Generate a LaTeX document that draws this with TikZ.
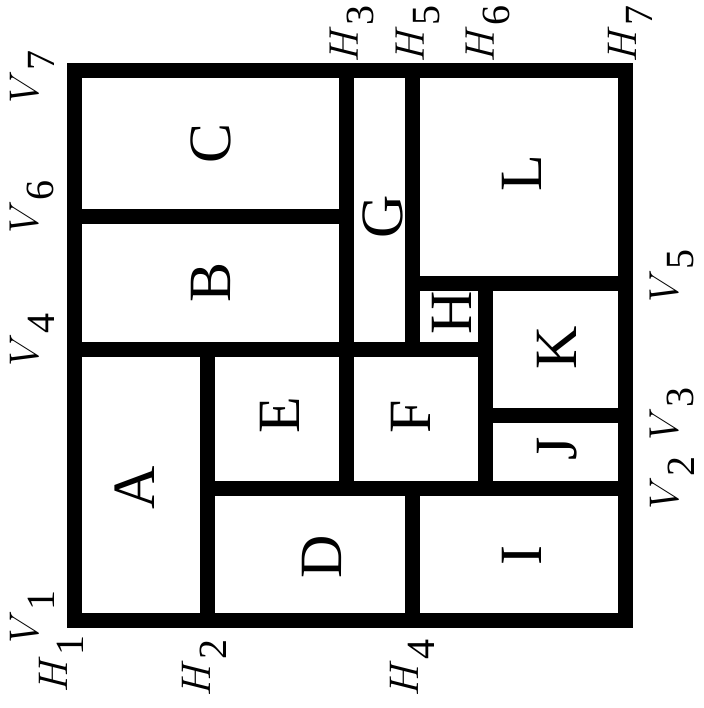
\documentclass[tikz,border=0pt]{standalone}
\usepackage{fontspec}
\setmainfont{Liberation Serif}
\usetikzlibrary{positioning}
\newcommand{\cutlbl}[2]{$#1$\raisebox{-0.4em}{#2}}
\tikzset{
  wall/.style  = {draw=black, line width=7.5pt},
  room/.style  = {rotate=90, inner sep=0pt, font=\fontsize{30}{34}\selectfont},
  cut/.style   = {rotate=90, inner sep=0pt, font=\fontsize{20}{24}\selectfont},
}
\begin{document}
\begin{tikzpicture}[x=0.5pt, y=-0.5pt]
  \useasboundingbox (0,0) rectangle (704,708);

  % ---- outer frame and cut lines ------------------------------------
  \draw[wall] (74.5,70.5) rectangle (625.5,620.5);
  \foreach \xa/\ya/\xb/\yb in {346/70.5/346/488.5, 74.5/216/346/216,
                               74.5/349.5/485.5/349.5, 412.5/70.5/412.5/349.5,
                               412.5/283/625.5/283, 485.5/283/485.5/488.5,
                               207.5/488.5/625.5/488.5, 207.5/349.5/207.5/620.5,
                               412.5/488.5/412.5/620.5, 485.5/415.5/625.5/415.5}
    \draw[wall] (\xa,\ya) -- (\xb,\yb);

  % ---- rooms --------------------------------------------------------
  \foreach \r/\x/\y in {A/135/488, B/211/282, C/211/143, D/322/557,
                        E/280/415, F/411/417, G/383/217, H/452/313,
                        I/522/556, J/557/449, K/557/348, L/522/173}
    \node[room] (\r) at (\x,\y) {\r};

  % ---- vertical cut labels ------------------------------------------
  \foreach \n/\x/\y in {1/32/617, 4/32/340, 6/32/207, 7/32/77,
                        2/672/483, 3/672/414, 5/672/276}
    \node[cut] (V\n) at (\x,\y) {\cutlbl{V}{\n}};

  % ---- horizontal cut labels ----------------------------------------
  \foreach \n/\x/\y in {1/61/664, 2/204/668, 4/412/668,
                        3/352/34, 5/418/34, 6/488/34, 7/630/34}
    \node[cut] (H\n) at (\x,\y) {\cutlbl{H}{\n}};

\end{tikzpicture}
\end{document}
